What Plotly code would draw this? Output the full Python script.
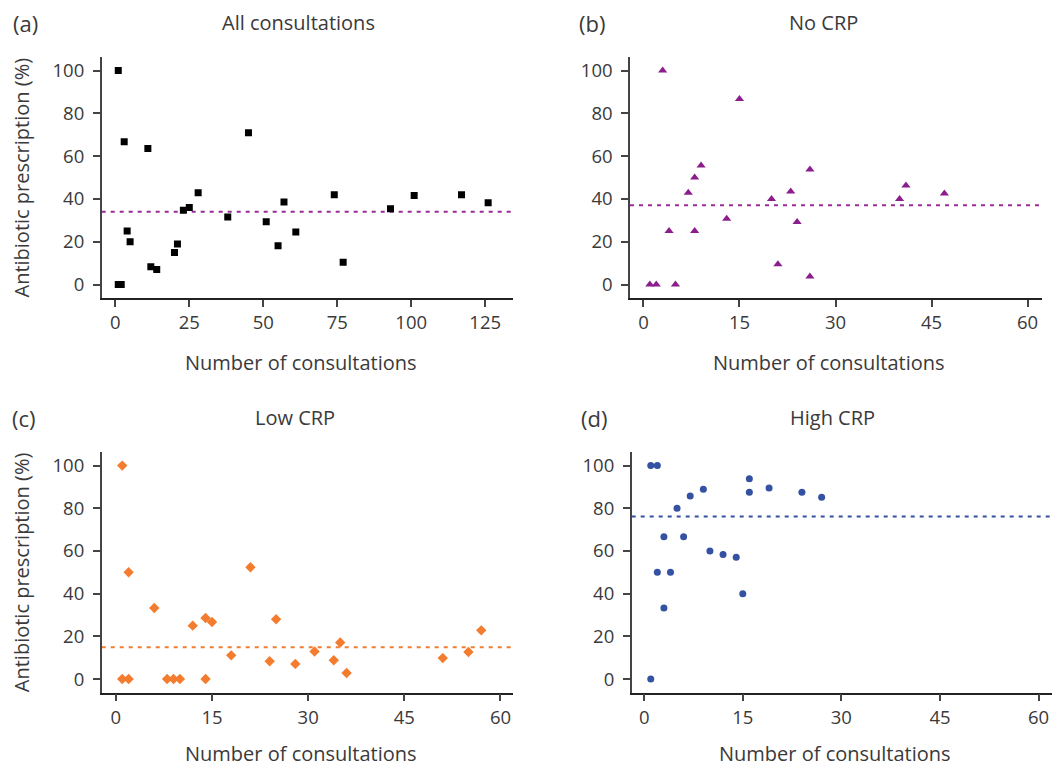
import plotly.graph_objects as go

# ---------------- data ----------------
# (a) All consultations
all_x = [1, 2, 1, 3, 11, 45, 4, 5, 12, 14, 20, 21, 23, 25, 28, 38, 51, 55, 57, 61, 74, 77, 93, 101, 117, 126]
all_y = [0, 0, 100, 66.7, 63.6, 71.0, 25.0, 20.0, 8.3, 7.1, 15.0, 19.0, 34.8, 36.0, 42.9, 31.6, 29.4, 18.2, 38.6, 24.6, 42.0, 10.4, 35.5, 41.6, 42.0, 38.3]

# (b) No CRP
nocrp_x = [3, 15, 9, 8, 7, 26, 20, 23, 13, 4, 8, 24, 21, 26, 1, 2, 5, 41, 40, 47]
nocrp_y = [100, 86.7, 55.6, 50.0, 42.9, 53.8, 40.0, 43.5, 30.8, 25.0, 25.0, 29.2, 9.5, 3.8, 0, 0, 0, 46.3, 40.0, 42.6]

# (c) Low CRP
low_x = [1, 2, 1, 2, 6, 8, 9, 10, 12, 14, 15, 14, 18, 21, 24, 25, 28, 31, 34, 35, 36, 51, 55, 57]
low_y = [100, 50.0, 0, 0, 33.3, 0, 0, 0, 25.0, 28.6, 26.7, 0, 11.1, 52.4, 8.3, 28.0, 7.1, 12.9, 8.8, 17.1, 2.8, 9.8, 12.7, 22.8]

# (d) High CRP
high_x = [1, 2, 1, 16, 16, 9, 7, 5, 19, 24, 27, 3, 6, 10, 12, 14, 2, 4, 3, 15]
high_y = [100, 100, 0, 93.8, 87.5, 88.9, 85.7, 80.0, 89.5, 87.5, 85.2, 66.7, 66.7, 60.0, 58.3, 57.1, 50.0, 50.0, 33.3, 40.0]

mean_pct = [34.0, 37.1, 14.9, 76.1]

panel_titles = ["All consultations", "No CRP", "Low CRP", "High CRP"]
panel_letters = ["(a)", "(b)", "(c)", "(d)"]
x_ticks_all = [0, 25, 50, 75, 100, 125]
x_ticks_sub = [0, 15, 30, 45, 60]
y_ticks = [0, 20, 40, 60, 80, 100]

# ---------------- styles ----------------
W, H = 1053, 766
FONT = "Open Sans"
TXT = "#3a3a3a"
AX = "#444444"
colors = ["#000000", "#8c1d8c", "#f47c2f", "#3551a2"]
mean_colors = ["#9a2b9a", "#9a2b9a", "#f47c2f", "#3551a2"]
symbols = ["square", "triangle-up", "diamond", "circle"]
sizes = [7, 8, 8, 7]
TICK_FS = 18.5
TITLE_FS = 20

def px_x(p):
    return p / W

def px_y(p):
    return 1 - p / H

# domains from pixel positions
xdom = [(101.7, 513.3), (630.0, 1041.7), (101.7, 513.3), (631.7, 1051.7)]
ydom = [(56.7, 298.3), (56.7, 298.3), (451.7, 692.7), (451.7, 692.7)]
xranges = [[-4.6, 134.5], [-2.1, 62.2], [-2.2, 62.0], [-1.9, 62.0]]
yrange = [-6.4, 106.5]

data = [(all_x, all_y), (nocrp_x, nocrp_y), (low_x, low_y), (high_x, high_y)]

fig = go.Figure()
layout = dict(
    width=W, height=H,
    margin=dict(l=0, r=0, t=0, b=0),
    paper_bgcolor="white", plot_bgcolor="white",
    showlegend=False,
    font=dict(family=FONT, size=TICK_FS, color=TXT),
)

shapes = []
annotations = []
for i in range(4):
    n = "" if i == 0 else str(i + 1)
    xs, ys = data[i]
    fig.add_trace(go.Scatter(
        x=xs, y=ys, mode="markers",
        xaxis="x" + n, yaxis="y" + n,
        marker=dict(symbol=symbols[i], size=sizes[i], color=colors[i], line=dict(width=0)),
        hoverinfo="x+y",
    ))
    layout["xaxis" + n] = dict(
        domain=[px_x(xdom[i][0]), px_x(xdom[i][1])],
        range=xranges[i],
        anchor="y" + n,
        tickvals=x_ticks_all if i == 0 else x_ticks_sub,
        ticks="outside", ticklen=7, tickwidth=1.5, tickcolor=AX,
        showline=True, linecolor="#222222", linewidth=1.5,
        showgrid=False, zeroline=False,
        tickfont=dict(size=TICK_FS, color=TXT),
    )
    layout["yaxis" + n] = dict(
        domain=[px_y(ydom[i][1]), px_y(ydom[i][0])],
        range=yrange,
        anchor="x" + n,
        tickvals=y_ticks,
        ticks="outside", ticklen=7, tickwidth=1.5, tickcolor=AX,
        showline=True, linecolor=AX, linewidth=1.5,
        showgrid=False, zeroline=False,
        ticklabelstandoff=5,
        tickfont=dict(size=TICK_FS, color=TXT),
    )
    shapes.append(dict(
        type="line", xref="x" + n + " domain", yref="y" + n,
        x0=0, x1=1, y0=mean_pct[i], y1=mean_pct[i],
        line=dict(color=mean_colors[i], width=2, dash="4px,5px"),
        layer="below",
    ))

# titles, panel letters, axis titles (pixel positions)
title_pos = [(298, 23), (823, 23), (295, 418), (832, 418)]
letter_pos = [(25, 23), (592, 23), (24, 418), (594, 418)]
xtitle_pos = [(301, 362), (829, 362), (301, 753), (835, 753)]
for i in range(4):
    annotations.append(dict(text=panel_titles[i], x=px_x(title_pos[i][0]), y=px_y(title_pos[i][1]),
                            xref="paper", yref="paper", showarrow=False, xanchor="center", yanchor="middle",
                            font=dict(size=TITLE_FS, color=TXT)))
    annotations.append(dict(text=panel_letters[i], x=px_x(letter_pos[i][0]), y=px_y(letter_pos[i][1]),
                            xref="paper", yref="paper", showarrow=False, xanchor="center", yanchor="middle",
                            font=dict(size=22, color=TXT)))
    annotations.append(dict(text="Number of consultations", x=px_x(xtitle_pos[i][0]), y=px_y(xtitle_pos[i][1]),
                            xref="paper", yref="paper", showarrow=False, xanchor="center", yanchor="middle",
                            font=dict(size=TITLE_FS, color=TXT)))
for yc in [177.5, 572.2]:
    annotations.append(dict(text="Antibiotic prescription (%)", x=px_x(21), y=px_y(yc),
                            xref="paper", yref="paper", showarrow=False, textangle=-90,
                            xanchor="center", yanchor="middle", font=dict(size=TITLE_FS, color=TXT)))

layout["shapes"] = shapes
layout["annotations"] = annotations
fig.update_layout(**layout)
fig.write_html("out.html",
               config={"displayModeBar": False},
               post_script="document.body.style.margin='0';document.body.style.overflow='hidden';")
